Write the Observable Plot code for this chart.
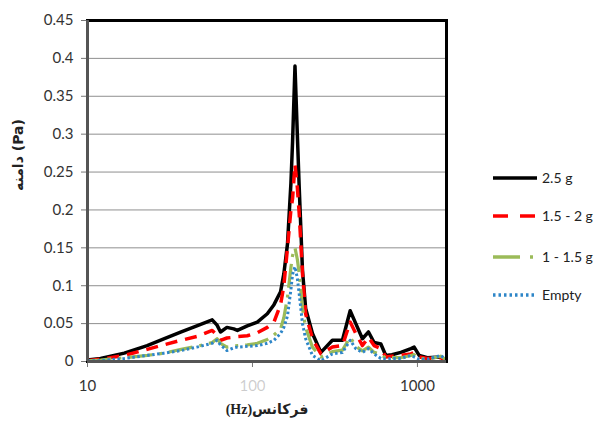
<!DOCTYPE html>
<html><head><meta charset="utf-8">
<script src="https://cdn.jsdelivr.net/npm/d3@7"></script>
<script src="https://cdn.jsdelivr.net/npm/@observablehq/plot@0.6"></script>
<style>
body{margin:0;background:#fff;}
#wrap{position:relative;width:598px;height:428px;}
#legend{position:absolute;left:0;top:0;}
</style></head><body><div id="wrap"></div>
<script>
const freq = [10, 12, 16.7, 23, 29, 37, 46, 57, 61, 64, 70, 77, 81, 93, 107, 123, 135, 148, 155, 163, 171, 175, 181, 187, 192, 201, 210, 231, 260, 305, 351, 391, 423, 464, 505, 546, 600, 643, 700, 793, 913, 955, 1024, 1148, 1383, 1500];
const amp25 = [0.002, 0.004, 0.011, 0.021, 0.030, 0.039, 0.047, 0.055, 0.048, 0.039, 0.045, 0.043, 0.041, 0.047, 0.052, 0.063, 0.075, 0.092, 0.116, 0.155, 0.235, 0.29, 0.39, 0.30, 0.23, 0.12, 0.07, 0.037, 0.012, 0.028, 0.028, 0.067, 0.050, 0.030, 0.039, 0.025, 0.023, 0.008, 0.009, 0.012, 0.017, 0.019, 0.008, 0.005, 0.006, 0.001];
const amp15to2 = [0.001, 0.003, 0.008, 0.016, 0.022, 0.028, 0.033, 0.041, 0.035, 0.028, 0.031, 0.032, 0.033, 0.034, 0.038, 0.045, 0.052, 0.075, 0.10, 0.15, 0.20, 0.215, 0.26, 0.23, 0.195, 0.116, 0.063, 0.030, 0.010, 0.019, 0.021, 0.052, 0.037, 0.021, 0.032, 0.021, 0.017, 0.006, 0.007, 0.008, 0.010, 0.012, 0.006, 0.004, 0.005, 0.001];
const amp1to15 = [0.001, 0.002, 0.005, 0.008, 0.011, 0.016, 0.020, 0.025, 0.030, 0.024, 0.019, 0.020, 0.021, 0.022, 0.024, 0.029, 0.035, 0.043, 0.058, 0.085, 0.124, 0.14, 0.15, 0.135, 0.116, 0.07, 0.045, 0.019, 0.006, 0.013, 0.015, 0.032, 0.020, 0.014, 0.019, 0.012, 0.010, 0.004, 0.005, 0.005, 0.008, 0.009, 0.004, 0.003, 0.007, 0.002];
const ampEmpty = [0.001, 0.001, 0.004, 0.008, 0.011, 0.0145, 0.019, 0.024, 0.028, 0.022, 0.0145, 0.018, 0.019, 0.020, 0.021, 0.024, 0.028, 0.037, 0.045, 0.06, 0.095, 0.115, 0.125, 0.11, 0.089, 0.05, 0.030, 0.008, 0.001, 0.010, 0.012, 0.028, 0.017, 0.012, 0.017, 0.010, 0.004, 0.003, 0.004, 0.004, 0.008, 0.006, 0.003, 0.003, 0.008, 0.002];
const seriesNames = ["2.5 g", "1.5 - 2 g", "1 - 1.5 g", "Empty"];
const xTicks = [10, 100, 1000];
const yTicks = [0, 0.05, 0.1, 0.15, 0.2, 0.25, 0.3, 0.35, 0.4, 0.45];
const xTitle = "(Hz)فرکانس";
const yTitle = "دامنه (Pa)";

const seriesValues = [amp25, amp15to2, amp1to15, ampEmpty];
const styles = [
  {stroke: "#000000", strokeWidth: 3.5, dash: null},
  {stroke: "#ff0000", strokeWidth: 3.5, dash: "12,8"},
  {stroke: "#9bbb59", strokeWidth: 3.2, dash: "24,7,3,7"},
  {stroke: "#2e86c8", strokeWidth: 3, dash: "2.5,2.5"}
];
const rows = seriesValues.map((vals, s) => freq.map((f, i) => ({f, v: vals[i], s: seriesNames[s]})));

const font = "Lato, 'Open Sans', sans-serif";
const chart = Plot.plot({
  width: 598, height: 428,
  marginLeft: 87, marginRight: 152, marginTop: 20, marginBottom: 67,
  style: {fontFamily: font, fontSize: "15px", color: "#333", background: "#fff"},
  x: {type: "log", domain: [10, 1500]},
  y: {domain: [0, 0.45]},
  marks: [
    Plot.gridY(yTicks, {stroke: "#8f8f8f", strokeOpacity: 1, strokeWidth: 1}),
    Plot.axisX(xTicks, {tickSize: 6, text: null, label: null, stroke: "#777"}),
    Plot.axisX(xTicks.filter(d => d !== 100), {tickSize: 0, tickFormat: d => String(d), tickPadding: 19, label: null, fill: "#333"}),
    Plot.axisX(xTicks.filter(d => d === 100), {tickSize: 0, tickFormat: d => String(d), tickPadding: 19, label: null, fill: "#333", fillOpacity: 0.25}),
    Plot.axisY(yTicks, {tickFormat: d => String(+d.toFixed(2)), tickSize: 6, tickPadding: 8, label: null, stroke: "#777", fill: "#333"}),
    ...rows.map((r, s) => Plot.line(r, {x: "f", y: "v", stroke: styles[s].stroke, strokeWidth: styles[s].strokeWidth, strokeDasharray: styles[s].dash, strokeLinejoin: "round", strokeLinecap: "butt"})),
    Plot.frame({stroke: "#000", strokeWidth: 3}),
    Plot.ruleX([10], {stroke: "#555", strokeWidth: 3}),
    Plot.ruleY([0], {stroke: "#555", strokeWidth: 3}),
    Plot.text([yTitle], {frameAnchor: "left", rotate: -90, dx: -69, fontWeight: "bold", fontSize: 14, fill: "#222", fontFamily: "'DejaVu Sans', sans-serif"}),
    Plot.text([xTitle], {frameAnchor: "bottom", dy: 52, fontWeight: "bold", fontSize: 14, fill: "#222", fontFamily: "'Liberation Serif', 'DejaVu Sans', serif"})
  ]
});
document.getElementById("wrap").appendChild(chart);

// Legend
const lg = d3.select("#wrap").append("svg").attr("id", "legend").attr("width", 598).attr("height", 428);
const rowY = [178, 216, 257, 295];
seriesNames.forEach((name, i) => {
  const g = lg.append("g").attr("transform", `translate(0,${rowY[i]})`);
  if (i === 2) {
    g.append("line").attr("x1", 493).attr("x2", 520).attr("y1", 0).attr("y2", 0)
      .attr("stroke", styles[i].stroke).attr("stroke-width", 3.5);
    g.append("line").attr("x1", 530).attr("x2", 533).attr("y1", 0).attr("y2", 0)
      .attr("stroke", styles[i].stroke).attr("stroke-width", 3.5);
  } else {
    g.append("line").attr("x1", 493).attr("x2", 537).attr("y1", 0).attr("y2", 0)
      .attr("stroke", styles[i].stroke).attr("stroke-width", 3.5)
      .attr("stroke-dasharray", i === 1 ? "15,12" : (i === 3 ? "2.5,3" : null));
  }
  g.append("text").attr("x", 542).attr("y", 0).attr("dy", "0.35em")
    .attr("font-family", font).attr("font-size", 14).attr("fill", "#222").text(name);
});
</script>
</body></html>
